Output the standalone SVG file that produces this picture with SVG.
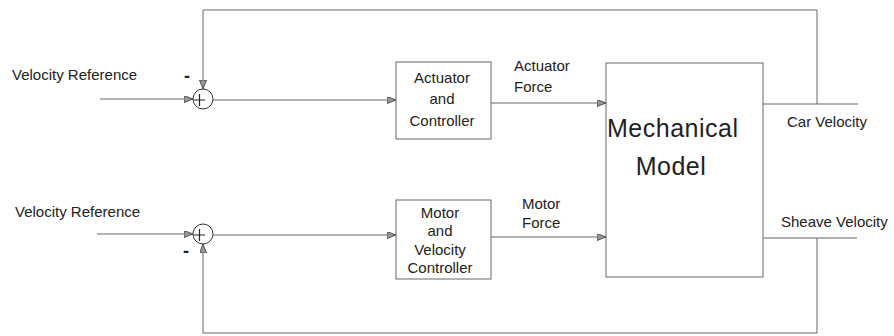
<svg xmlns="http://www.w3.org/2000/svg" width="894" height="336" viewBox="0 0 894 336">
<defs>
<marker id="arr" markerWidth="10" markerHeight="8" refX="9" refY="3.5" orient="auto" markerUnits="userSpaceOnUse">
<path d="M0,0 L9,3.5 L0,7 z" fill="#999" stroke="#333" stroke-width="0.8"/>
</marker>
<style>
.ln{fill:none;stroke:#666;stroke-width:1}
.box{fill:#fff;stroke:#666;stroke-width:1}
.t{font-family:"Liberation Sans",Arial,sans-serif;font-size:15px;fill:#222}
.big{font-family:"Liberation Sans",Arial,sans-serif;font-size:25px;letter-spacing:0.5px;fill:#222}
.m{font-family:"Liberation Sans",Arial,sans-serif;font-size:18px;font-weight:bold;fill:#222}
.c{text-anchor:middle}
</style>
</defs>
<rect width="894" height="336" fill="#fff"/>
<g id="connectors">
<path class="ln" d="M100,99 H193" marker-end="url(#arr)"/>
<path class="ln" d="M817,104 V10 H203 V89" marker-end="url(#arr)"/>
<path class="ln" d="M213,100 H396" marker-end="url(#arr)"/>
<path class="ln" d="M491,103 H606" marker-end="url(#arr)"/>
<path class="ln" d="M763,104 H858"/>
<path class="ln" d="M97,234 H193" marker-end="url(#arr)"/>
<path class="ln" d="M213,235 H396" marker-end="url(#arr)"/>
<path class="ln" d="M491,237 H606" marker-end="url(#arr)"/>
<path class="ln" d="M763,238 H857"/>
<path class="ln" d="M817,238 V333 H203 V244" marker-end="url(#arr)"/>
</g>
<g id="ref1"><text class="t" x="12" y="80">Velocity Reference</text></g>
<g id="ref2"><text class="t" x="15" y="217">Velocity Reference</text></g>
<g id="sum1">
<circle cx="203" cy="99" r="10" fill="#fff" stroke="#333" stroke-width="1"/>
<path d="M194,100 H205 M199.5,94 V106" stroke="#222" stroke-width="1.2"/>
<text class="m" x="184" y="82">-</text>
</g>
<g id="sum2">
<circle cx="203" cy="234" r="10" fill="#fff" stroke="#333" stroke-width="1"/>
<path d="M194,235 H205 M199.5,229 V241" stroke="#222" stroke-width="1.2"/>
<text class="m" x="183" y="257">-</text>
</g>
<g id="actuator">
<rect class="box" x="396" y="62" width="95" height="77"/>
<text class="t c" x="442" y="83">Actuator</text>
<text class="t c" x="442" y="104">and</text>
<text class="t c" x="442" y="126">Controller</text>
</g>
<g id="motor">
<rect class="box" x="396" y="200" width="95" height="79"/>
<text class="t c" x="440" y="218">Motor</text>
<text class="t c" x="440" y="236">and</text>
<text class="t c" x="440" y="255">Velocity</text>
<text class="t c" x="440" y="273">Controller</text>
</g>
<g id="mechanical">
<rect class="box" x="606" y="63" width="157" height="214"/>
<text class="big" x="607" y="137">Mechanical</text>
<text class="big c" x="671" y="175">Model</text>
</g>
<g id="labels">
<text class="t" x="514" y="71">Actuator</text>
<text class="t" x="514" y="92">Force</text>
<text class="t" x="522" y="209">Motor</text>
<text class="t" x="522" y="228">Force</text>
<text class="t" x="787" y="127">Car Velocity</text>
<text class="t" x="781" y="227">Sheave Velocity</text>
</g>
</svg>
